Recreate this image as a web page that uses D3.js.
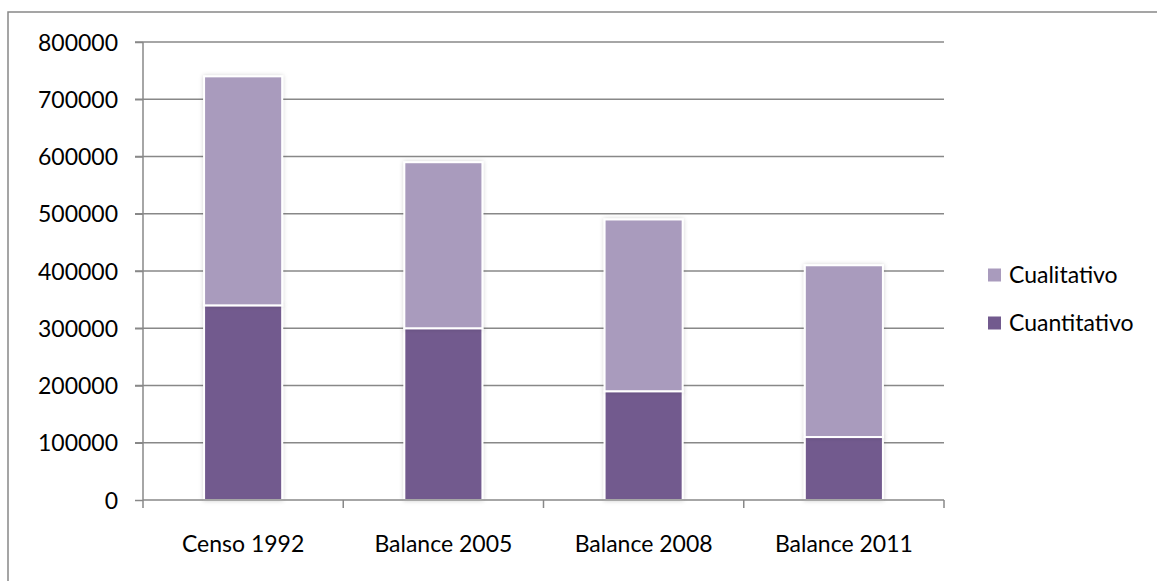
<!DOCTYPE html>
<html lang="es">
<head>
  <meta charset="UTF-8">
  <title>Déficit habitacional</title>
  <script src="https://d3js.org/d3.v7.min.js"></script>
  <style>
    body { margin: 0; padding: 0; background: #fff; }
    svg { display: block; }
    text { font-family: Lato, "Liberation Sans", sans-serif; font-size: 23px; fill: #000; }
    .grid line { stroke: #888; stroke-width: 1.5px; }
    .axis path, .axis line { stroke: #888; stroke-width: 1.5px; }
    .bar { stroke: #fff; stroke-width: 2px; }
  </style>
</head>
<body>
  <svg id="chart"></svg>

  <script>
    const categories = ['Censo 1992', 'Balance 2005', 'Balance 2008', 'Balance 2011'];
    const cuantitativo = [340000, 300000, 190000, 110000];
    const cualitativo = [400000, 290000, 300000, 300000];
    const yTicks = [0, 100000, 200000, 300000, 400000, 500000, 600000, 700000, 800000];

    const seriesNames = ['Cuantitativo', 'Cualitativo'];
    const colors = { Cuantitativo: '#725a8e', Cualitativo: '#a99bbd' };

    const width = 1157, height = 581;
    const svg = d3.select('#chart').attr('width', width).attr('height', height);

    // chart frame
    svg.append('rect')
      .attr('x', 8).attr('y', 12)
      .attr('width', width + 10).attr('height', height + 10)
      .attr('fill', 'none').attr('stroke', '#888').attr('stroke-width', 1.5);

    const plotLeft = 143, plotRight = 944, plotTop = 42, plotBottom = 500;

    const x = d3.scaleBand().domain(categories).range([plotLeft, plotRight])
      .paddingInner(0.61).paddingOuter(0.305);
    const y = d3.scaleLinear().domain([0, 800000]).range([plotBottom, plotTop]);

    const rows = categories.map((c, i) => ({
      cat: c, Cuantitativo: cuantitativo[i], Cualitativo: cualitativo[i]
    }));
    const stacked = d3.stack().keys(seriesNames)(rows);

    // gridlines
    svg.append('g').attr('class', 'grid')
      .selectAll('line').data(yTicks.filter(d => d > 0)).enter().append('line')
      .attr('x1', plotLeft - 8).attr('x2', plotRight)
      .attr('y1', d => y(d)).attr('y2', d => y(d));

    // y axis
    const yAxis = svg.append('g').attr('class', 'axis')
      .attr('transform', `translate(${plotLeft},0)`)
      .call(d3.axisLeft(y).tickValues(yTicks).tickFormat(d3.format('d')).tickSize(8).tickPadding(17));
    yAxis.select('.domain').attr('d', `M0,${plotTop}V${plotBottom}`);
    yAxis.selectAll('text').attr('dy', '0.35em').attr('font-size', null).attr('font-family', null);
    yAxis.attr('font-size', null).attr('font-family', null);

    // shadow filter for bars
    const defs = svg.append('defs');
    const f = defs.append('filter').attr('id', 'shadow')
      .attr('x', '-20%').attr('y', '-20%').attr('width', '140%').attr('height', '140%');
    f.append('feDropShadow').attr('dx', 0).attr('dy', 0).attr('stdDeviation', 2)
      .attr('flood-color', '#000').attr('flood-opacity', 0.18);

    // bars
    svg.append('g').selectAll('g').data(stacked).enter().append('g')
      .attr('fill', d => colors[d.key])
      .selectAll('rect').data(d => d).enter().append('rect')
      .attr('class', 'bar')
      .attr('filter', 'url(#shadow)')
      .attr('x', d => x(d.data.cat))
      .attr('width', x.bandwidth())
      .attr('y', d => y(d[1]))
      .attr('height', d => y(d[0]) - y(d[1]));

    // x axis
    const xAxis = svg.append('g').attr('class', 'axis')
      .attr('transform', `translate(0,${plotBottom})`);
    xAxis.append('line').attr('x1', plotLeft).attr('x2', plotRight).attr('y1', 0).attr('y2', 0);
    xAxis.selectAll('.tk').data(d3.range(categories.length + 1)).enter().append('line')
      .attr('class', 'tk')
      .attr('x1', i => plotLeft + i * x.step()).attr('x2', i => plotLeft + i * x.step())
      .attr('y1', 0).attr('y2', 8);
    xAxis.selectAll('text').data(categories).enter().append('text')
      .attr('x', d => x(d) + x.bandwidth() / 2)
      .attr('y', 52)
      .attr('text-anchor', 'middle')
      .text(d => d);

    // legend
    const legend = svg.append('g').selectAll('g')
      .data(['Cualitativo', 'Cuantitativo']).enter().append('g')
      .attr('transform', (d, i) => `translate(988,${275 + i * 48})`);
    legend.append('rect').attr('x', 0).attr('y', -6.5).attr('width', 13).attr('height', 13)
      .attr('fill', d => colors[d]);
    legend.append('text').attr('x', 21).attr('dy', '0.35em').text(d => d);
  </script>
</body>
</html>
